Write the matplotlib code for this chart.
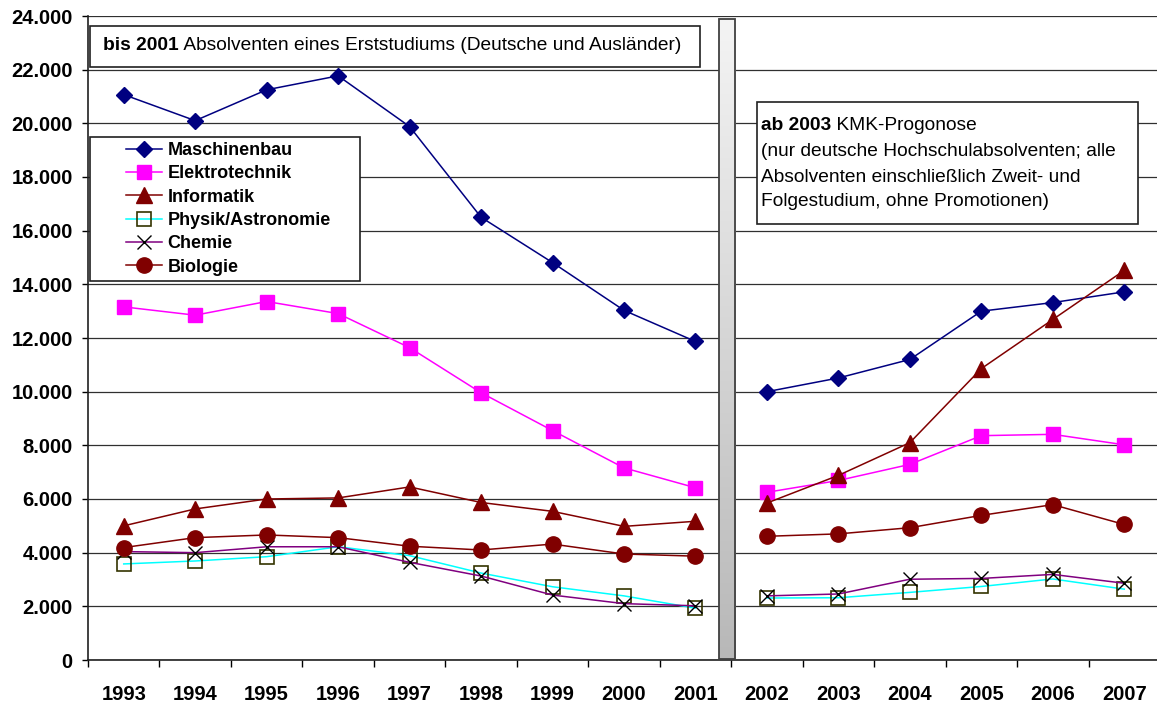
import numpy as np
from matplotlib import pyplot as plt
from matplotlib import patches
from matplotlib.colors import LinearSegmentedColormap
from matplotlib.lines import Line2D
from matplotlib.ticker import FuncFormatter, MultipleLocator

years = ["1993", "1994", "1995", "1996", "1997", "1998", "1999", "2000", "2001",
         "2002", "2003", "2004", "2005", "2006", "2007"]

maschinenbau = [21070, 20100, 21250, 21770, 19880, 16500, 14810, 13030, 11870,
                10000, 10510, 11200, 13000, 13320, 13720]
elektrotechnik = [13160, 12850, 13360, 12910, 11640, 9960, 8550, 7160, 6420,
                  6250, 6690, 7290, 8360, 8410, 8020]
informatik = [5000, 5630, 6000, 6040, 6450, 5870, 5540, 4980, 5170,
              5850, 6880, 8100, 10860, 12690, 14520]
physik = [3580, 3690, 3850, 4220, 3890, 3240, 2730, 2390, 1930,
          2310, 2320, 2520, 2740, 3020, 2640]
chemie = [4040, 4000, 4220, 4220, 3640, 3130, 2420, 2100, 2020,
          2390, 2460, 3010, 3040, 3190, 2860]
biologie = [4190, 4560, 4660, 4560, 4240, 4100, 4320, 3950, 3870,
            4610, 4700, 4930, 5390, 5790, 5050]

series_names = ["Maschinenbau", "Elektrotechnik", "Informatik",
                "Physik/Astronomie", "Chemie", "Biologie"]

W, H = 1157, 702


def px(x, y):
    return x / W, 1 - y / H


def main() -> None:
    plt.rcParams["font.family"] = ["Liberation Sans", "DejaVu Sans"]

    fig = plt.figure(figsize=(W / 100, H / 100), dpi=100)
    ax = fig.add_axes([88 / W, 1 - 660 / H, 1072 / W, 644 / H])

    styles = [
        dict(color="#000080", marker="D", ms=8, mfc="#000080", mec="#000080"),
        dict(color="#FF00FF", marker="s", ms=10, mfc="#FF00FF", mec="#FF00FF"),
        dict(color="#800000", marker="^", ms=11, mfc="#800000", mec="#800000"),
        dict(color="#00FFFF", marker="s", ms=10, mfc="none", mec="#333300", mew=1.2),
        dict(color="#800080", marker="x", ms=10, mfc="none", mec="black", mew=1.0),
        dict(color="#800000", marker="o", ms=11, mfc="#800000", mec="#800000"),
    ]
    all_series = [maschinenbau, elektrotechnik, informatik, physik, chemie, biologie]

    x = np.arange(len(years))
    split = years.index("2002")
    handles = []
    for vals, st in zip(all_series, styles):
        vals = np.asarray(vals, dtype=float)
        ax.plot(x[:split], vals[:split], lw=1.1, zorder=4, **st)
        ax.plot(x[split:], vals[split:], lw=1.1, zorder=4, **st)
        handles.append(Line2D([], [], lw=1.1, **st))

    # separator bar between 2001 and 2002
    grad = np.linspace(0, 1, 256).reshape(-1, 1)
    cmap = LinearSegmentedColormap.from_list("bar", ["#f4f4f4", "#b8b8b8"])
    ax.imshow(grad, extent=[8.325, 8.55, 30, 23900], aspect="auto", cmap=cmap,
              origin="upper", zorder=3)
    ax.add_patch(patches.Rectangle((8.325, 30), 0.225, 23870, fill=False,
                                   ec="#404040", lw=1.3, zorder=3.5))

    ax.set_xlim(-0.5, len(years) - 0.5)
    ax.set_ylim(0, 24000)

    ax.yaxis.set_major_locator(MultipleLocator(2000))
    ax.yaxis.set_major_formatter(FuncFormatter(lambda v, _: f"{int(v):,}".replace(",", ".")))
    ax.grid(axis="y", color="#303030", lw=0.9, zorder=1)
    ax.set_axisbelow(True)

    ax.set_xticks(x)
    ax.set_xticklabels(years)
    ax.set_xticks(np.arange(-0.5, len(years)), minor=True)
    ax.tick_params(axis="x", which="major", length=0, pad=18)
    ax.tick_params(axis="x", which="minor", length=5, width=1, direction="out")
    ax.tick_params(axis="y", length=4, width=1, pad=7)
    for lab in ax.get_xticklabels() + ax.get_yticklabels():
        lab.set_fontsize(14.5)
        lab.set_fontweight("bold")

    for side in ["top", "right"]:
        ax.spines[side].set_visible(False)
    for side in ["left", "bottom"]:
        ax.spines[side].set_linewidth(1.2)
        ax.spines[side].set_color("#202020")

    # annotation box: bis 2001
    x0, y0 = px(90, 67)
    x1, y1 = px(700, 26)
    fig.add_artist(patches.Rectangle((x0, y0), x1 - x0, y1 - y0, transform=fig.transFigure,
                                     fc="white", ec="#202020", lw=1.2))
    tx, ty = px(103, 46)
    t1 = fig.text(tx, ty, "bis 2001", fontsize=13.8, fontweight="bold", va="center")
    fig.add_artist(plt.Annotation(" Absolventen eines Erststudiums (Deutsche und Ausländer)",
                                  xy=(1, 0.5), xycoords=t1, va="center", fontsize=13.8))

    # annotation box: ab 2003
    x0, y0 = px(757, 224)
    x1, y1 = px(1138, 102)
    fig.add_artist(patches.Rectangle((x0, y0), x1 - x0, y1 - y0, transform=fig.transFigure,
                                     fc="white", ec="#202020", lw=1.2))
    tx, ty = px(761, 126)
    t2 = fig.text(tx, ty, "ab 2003", fontsize=13.8, fontweight="bold", va="center")
    fig.add_artist(plt.Annotation(" KMK-Progonose", xy=(1, 0.5), xycoords=t2,
                                  va="center", fontsize=13.8))
    lines = ["(nur deutsche Hochschulabsolventen; alle",
             "Absolventen einschließlich Zweit- und",
             "Folgestudium, ohne Promotionen)"]
    for line, yy in zip(lines, [151.5, 177, 202]):
        fig.text(*px(761, yy), line, fontsize=13.8, va="center")

    # legend
    x0, y0 = px(90, 281)
    x1, y1 = px(360, 137)
    fig.add_artist(patches.Rectangle((x0, y0), x1 - x0, y1 - y0, transform=fig.transFigure,
                                     fc="white", ec="#202020", lw=1.2))
    fig.legend(handles, series_names, loc="upper left", bbox_to_anchor=px(126, 142),
               frameon=False, borderpad=0, borderaxespad=0, handlelength=2.0,
               handletextpad=0.3, labelspacing=0.35,
               prop=dict(size=13, weight="bold"))

    fig.savefig("out.png", dpi=100)


if __name__ == "__main__":
    main()
